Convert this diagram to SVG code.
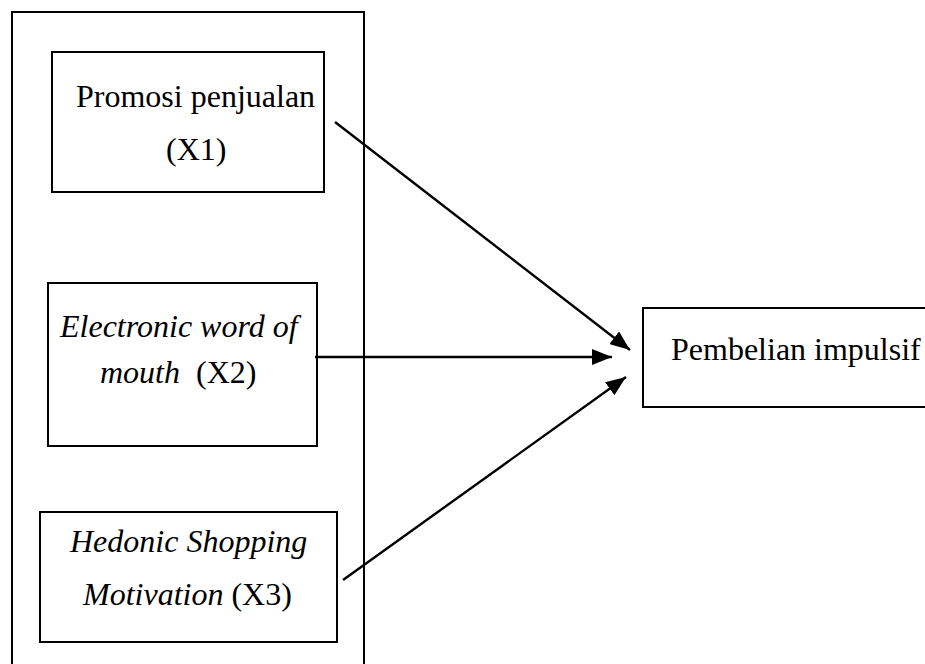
<svg xmlns="http://www.w3.org/2000/svg" width="925" height="664" viewBox="0 0 925 664">
<style>
.box{fill:none;stroke:#000;stroke-width:2}
.t{font-family:"Liberation Serif","Times New Roman",serif;font-size:32px;fill:#000;white-space:pre}
.i{font-style:italic}
.c{stroke:#000;stroke-width:2.4;fill:none}
</style>
<defs>
<marker id="a" viewBox="0 0 20 16" refX="20" refY="8" markerWidth="20" markerHeight="16" markerUnits="userSpaceOnUse" orient="auto">
<path d="M0,0 L20,8 L0,16 z" fill="#000"/>
</marker>
</defs>
<g id="group-outer"><path class="box" d="M12,664 V12 H364 V664"/></g>
<g id="node-x1">
<rect class="box" x="52" y="52" width="272" height="140"/>
<text class="t" x="76" y="107">Promosi penjualan</text>
<text class="t" x="166" y="160">(X1)</text>
</g>
<g id="node-x2">
<rect class="box" x="48" y="283" width="269" height="163"/>
<text class="t i" x="60" y="337">Electronic word of</text>
<text class="t" x="100" y="383" xml:space="preserve"><tspan class="i">mouth</tspan>  (X2)</text>
</g>
<g id="node-x3">
<rect class="box" x="40" y="512" width="297" height="130"/>
<text class="t i" x="70" y="552">Hedonic Shopping</text>
<text class="t" x="83" y="605"><tspan class="i">Motivation</tspan> (X3)</text>
</g>
<g id="node-y">
<path class="box" d="M925,308 H643 V407 H925"/>
<text class="t" x="671" y="360">Pembelian impulsif</text>
</g>
<g id="connectors">
<line class="c" x1="335" y1="122" x2="630" y2="350" marker-end="url(#a)"/>
<line class="c" x1="315" y1="357" x2="612" y2="357" marker-end="url(#a)"/>
<line class="c" x1="343" y1="580" x2="626" y2="377" marker-end="url(#a)"/>
</g>
</svg>
